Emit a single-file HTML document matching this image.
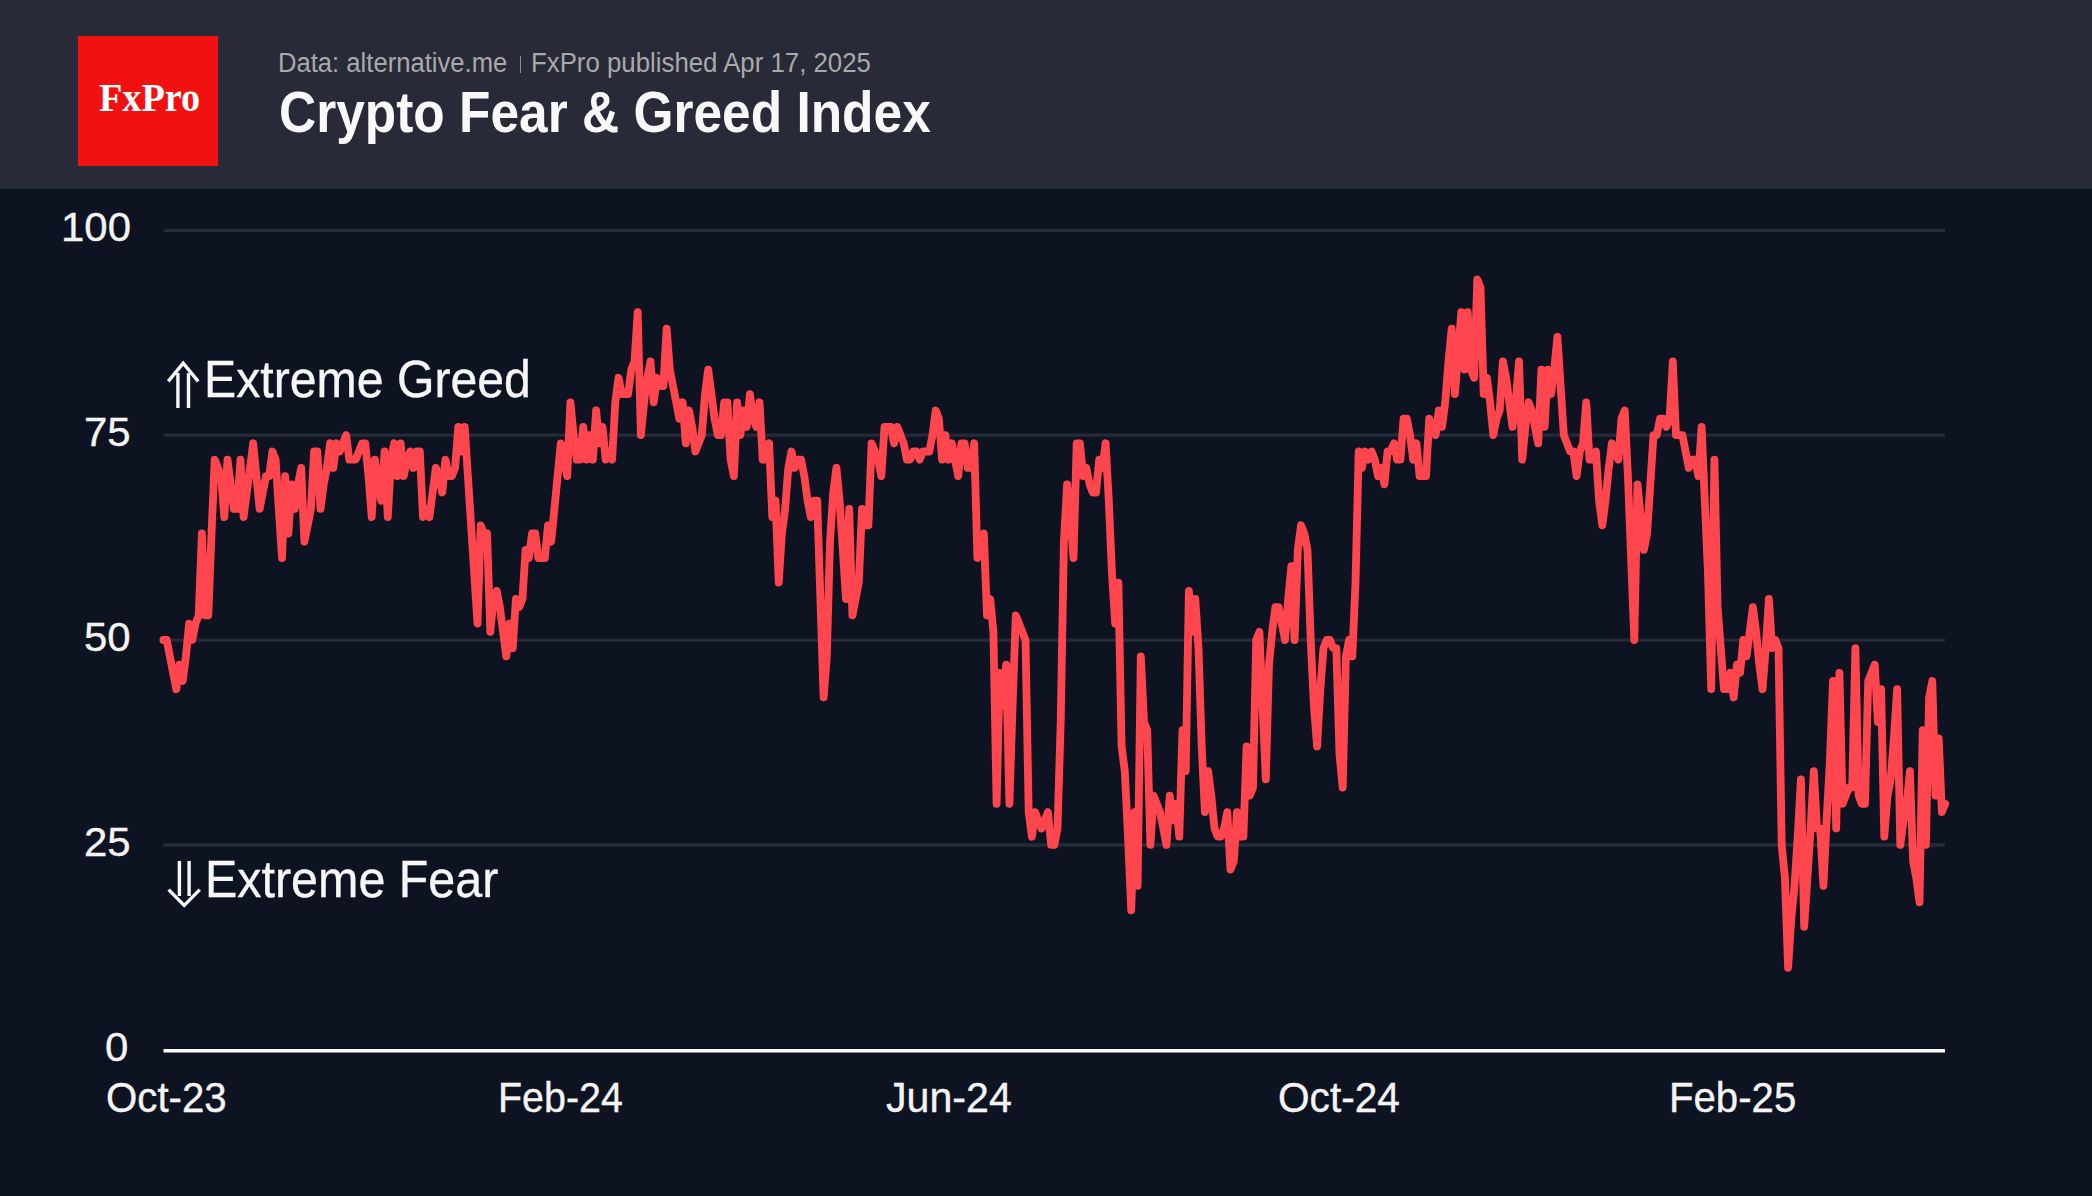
<!DOCTYPE html>
<html><head><meta charset="utf-8"><title>Crypto Fear &amp; Greed Index</title>
<style>
html,body{margin:0;padding:0;background:#0d1321;}
body{width:2092px;height:1196px;position:relative;overflow:hidden;font-family:"Liberation Sans",sans-serif;}
#hdr{position:absolute;left:0;top:0;width:2092px;height:189.4px;background:#282a37;}
#logo{position:absolute;left:78px;top:36px;width:140px;height:129.5px;background:#f21111;}
#sep{position:absolute;left:519.8px;top:56px;width:1.6px;height:16.5px;background:#8b8c92;}
.t{position:absolute;white-space:nowrap;transform-origin:0 0;}
svg{position:absolute;left:0;top:0;}
</style></head><body>
<div id="hdr"><div id="logo"></div><div id="sep"></div></div>
<svg width="2092" height="1196" viewBox="0 0 2092 1196">
<line x1="163.5" x2="1945" y1="230.4" y2="230.4" stroke="#262b38" stroke-width="3.3"/><line x1="163.5" x2="1945" y1="435.1" y2="435.1" stroke="#262b38" stroke-width="3.3"/><line x1="163.5" x2="1945" y1="640.1" y2="640.1" stroke="#262b38" stroke-width="3.3"/><line x1="163.5" x2="1945" y1="845.0" y2="845.0" stroke="#262b38" stroke-width="3.3"/>
<line x1="163.5" x2="1945" y1="1050.8" y2="1050.8" stroke="#ffffff" stroke-width="3.4"/>
<polyline fill="none" stroke="#ff464f" stroke-width="7.8" stroke-linejoin="round" stroke-linecap="round" points="163.4,640.0 166.7,640.0 169.9,656.4 173.1,672.8 176.3,689.2 179.5,664.6 182.7,681.0 185.9,656.4 189.1,623.6 192.3,640.0 195.5,623.6 198.7,615.4 201.9,533.5 205.1,615.4 208.3,615.4 211.5,533.5 214.7,459.7 217.9,467.9 221.1,476.1 224.3,517.1 227.5,459.7 230.7,484.3 233.9,508.9 237.2,508.9 240.4,459.7 243.6,517.1 246.8,492.5 250.0,467.9 253.2,443.3 256.4,476.1 259.6,508.9 262.8,492.5 266.0,476.1 269.2,476.1 272.4,451.5 275.6,459.7 278.8,508.9 282.0,558.0 285.2,476.1 288.4,533.5 291.6,484.3 294.8,508.9 298.0,484.3 301.2,467.9 304.4,541.7 307.7,525.3 310.9,508.9 314.1,451.5 317.3,451.5 320.5,508.9 323.7,484.3 326.9,467.9 330.1,443.3 333.3,467.9 336.5,443.3 339.7,451.5 342.9,443.3 346.1,435.1 349.3,459.7 352.5,459.7 355.7,459.7 358.9,451.5 362.1,443.3 365.3,443.3 368.5,476.1 371.7,517.1 374.9,459.7 378.2,484.3 381.4,500.7 384.6,451.5 387.8,517.1 391.0,459.7 394.2,443.3 397.4,476.1 400.6,443.3 403.8,476.1 407.0,459.7 410.2,451.5 413.4,467.9 416.6,451.5 419.8,451.5 423.0,517.1 426.2,508.9 429.4,517.1 432.6,492.5 435.8,467.9 439.0,476.1 442.2,492.5 445.4,459.7 448.7,476.1 451.9,476.1 455.1,467.9 458.3,426.9 461.5,451.5 464.7,426.9 467.9,476.1 471.1,525.3 474.3,574.4 477.5,623.6 480.7,525.3 483.9,533.5 487.1,533.5 490.3,631.8 493.5,599.0 496.7,590.8 499.9,607.2 503.1,631.8 506.3,656.4 509.5,623.6 512.7,648.2 515.9,599.0 519.1,607.2 522.4,599.0 525.6,549.9 528.8,558.0 532.0,533.5 535.2,533.5 538.4,558.0 541.6,558.0 544.8,558.0 548.0,525.3 551.2,541.7 554.4,508.9 557.6,476.1 560.8,443.3 564.0,459.7 567.2,476.1 570.4,402.3 573.6,435.1 576.8,459.7 580.0,459.7 583.2,426.9 586.4,459.7 589.6,435.1 592.9,459.7 596.1,410.5 599.3,443.3 602.5,426.9 605.7,459.7 608.9,451.5 612.1,459.7 615.3,402.3 618.5,377.8 621.7,394.1 624.9,394.1 628.1,394.1 631.3,369.6 634.5,361.4 637.7,312.2 640.9,435.1 644.1,402.3 647.3,377.8 650.5,361.4 653.7,402.3 656.9,377.8 660.1,386.0 663.4,386.0 666.6,328.6 669.8,369.6 673.0,386.0 676.2,402.3 679.4,418.7 682.6,402.3 685.8,443.3 689.0,410.5 692.2,426.9 695.4,451.5 698.6,443.3 701.8,435.1 705.0,394.1 708.2,369.6 711.4,394.1 714.6,418.7 717.8,435.1 721.0,435.1 724.2,402.3 727.4,402.3 730.6,459.7 733.9,476.1 737.1,402.3 740.3,435.1 743.5,410.5 746.7,426.9 749.9,394.1 753.1,418.7 756.3,426.9 759.5,402.3 762.7,459.7 765.9,459.7 769.1,443.3 772.3,517.1 775.5,500.7 778.7,582.6 781.9,533.5 785.1,508.9 788.3,467.9 791.5,451.5 794.7,467.9 797.9,459.7 801.1,459.7 804.3,476.1 807.6,500.7 810.8,517.1 814.0,500.7 817.2,500.7 820.4,599.0 823.6,697.4 826.8,656.4 830.0,541.7 833.2,492.5 836.4,467.9 839.6,500.7 842.8,549.9 846.0,599.0 849.2,508.9 852.4,615.4 855.6,599.0 858.8,582.6 862.0,508.9 865.2,525.3 868.4,525.3 871.6,443.3 874.8,451.5 878.1,459.7 881.3,476.1 884.5,426.9 887.7,426.9 890.9,426.9 894.1,443.3 897.3,426.9 900.5,435.1 903.7,443.3 906.9,459.7 910.1,459.7 913.3,451.5 916.5,451.5 919.7,459.7 922.9,451.5 926.1,451.5 929.3,451.5 932.5,435.1 935.7,410.5 938.9,418.7 942.1,459.7 945.3,435.1 948.6,459.7 951.8,443.3 955.0,459.7 958.2,476.1 961.4,443.3 964.6,443.3 967.8,467.9 971.0,467.9 974.2,443.3 977.4,558.0 980.6,541.7 983.8,533.5 987.0,615.4 990.2,599.0 993.4,631.8 996.6,803.9 999.8,672.8 1003.0,705.6 1006.2,664.6 1009.4,803.9 1012.6,705.6 1015.8,615.4 1019.1,623.6 1022.3,631.8 1025.5,640.0 1028.7,812.1 1031.9,836.7 1035.1,812.1 1038.3,820.3 1041.5,828.5 1044.7,820.3 1047.9,812.1 1051.1,844.9 1054.3,844.9 1057.5,828.5 1060.7,722.0 1063.9,541.7 1067.1,484.3 1070.3,517.1 1073.5,558.0 1076.7,443.3 1079.9,443.3 1083.1,476.1 1086.3,467.9 1089.6,484.3 1092.8,492.5 1096.0,492.5 1099.2,459.7 1102.4,467.9 1105.6,443.3 1108.8,500.7 1112.0,574.4 1115.2,623.6 1118.4,582.6 1121.6,746.5 1124.8,771.1 1128.0,836.7 1131.2,910.4 1134.4,812.1 1137.6,885.9 1140.8,656.4 1144.0,722.0 1147.2,730.1 1150.4,844.9 1153.6,795.7 1156.8,803.9 1160.0,812.1 1163.3,828.5 1166.5,844.9 1169.7,795.7 1172.9,820.3 1176.1,803.9 1179.3,836.7 1182.5,730.1 1185.7,771.1 1188.9,590.8 1192.1,631.8 1195.3,599.0 1198.5,648.2 1201.7,746.5 1204.9,812.1 1208.1,771.1 1211.3,795.7 1214.5,828.5 1217.7,836.7 1220.9,836.7 1224.1,828.5 1227.3,812.1 1230.5,869.5 1233.8,861.3 1237.0,812.1 1240.2,836.7 1243.4,836.7 1246.6,746.5 1249.8,795.7 1253.0,787.5 1256.2,640.0 1259.4,631.8 1262.6,705.6 1265.8,779.3 1269.0,664.6 1272.2,631.8 1275.4,607.2 1278.6,607.2 1281.8,623.6 1285.0,640.0 1288.2,599.0 1291.4,566.2 1294.6,640.0 1297.8,549.9 1301.0,525.3 1304.3,533.5 1307.5,549.9 1310.7,640.0 1313.9,705.6 1317.1,746.5 1320.3,689.2 1323.5,648.2 1326.7,640.0 1329.9,640.0 1333.1,648.2 1336.3,648.2 1339.5,754.7 1342.7,787.5 1345.9,656.4 1349.1,640.0 1352.3,656.4 1355.5,582.6 1358.7,451.5 1361.9,467.9 1365.1,451.5 1368.3,459.7 1371.5,451.5 1374.8,459.7 1378.0,476.1 1381.2,467.9 1384.4,484.3 1387.6,451.5 1390.8,451.5 1394.0,443.3 1397.2,459.7 1400.4,459.7 1403.6,418.7 1406.8,418.7 1410.0,435.1 1413.2,459.7 1416.4,443.3 1419.6,476.1 1422.8,476.1 1426.0,476.1 1429.2,418.7 1432.4,426.9 1435.6,435.1 1438.8,410.5 1442.0,426.9 1445.2,402.3 1448.5,361.4 1451.7,328.6 1454.9,394.1 1458.1,353.2 1461.3,312.2 1464.5,369.6 1467.7,312.2 1470.9,369.6 1474.1,377.8 1477.3,279.4 1480.5,287.6 1483.7,394.1 1486.9,377.8 1490.1,402.3 1493.3,435.1 1496.5,418.7 1499.7,410.5 1502.9,361.4 1506.1,377.8 1509.3,402.3 1512.5,426.9 1515.7,402.3 1519.0,361.4 1522.2,459.7 1525.4,426.9 1528.6,402.3 1531.8,410.5 1535.0,426.9 1538.2,443.3 1541.4,369.6 1544.6,426.9 1547.8,369.6 1551.0,394.1 1554.2,369.6 1557.4,336.8 1560.6,386.0 1563.8,435.1 1567.0,443.3 1570.2,451.5 1573.4,451.5 1576.6,476.1 1579.8,451.5 1583.0,443.3 1586.2,402.3 1589.5,459.7 1592.7,459.7 1595.9,451.5 1599.1,500.7 1602.3,525.3 1605.5,500.7 1608.7,467.9 1611.9,443.3 1615.1,451.5 1618.3,459.7 1621.5,418.7 1624.7,410.5 1627.9,476.1 1631.1,558.0 1634.3,640.0 1637.5,484.3 1640.7,517.1 1643.9,549.9 1647.1,533.5 1650.3,484.3 1653.5,435.1 1656.7,435.1 1660.0,418.7 1663.2,418.7 1666.4,426.9 1669.6,418.7 1672.8,361.4 1676.0,435.1 1679.2,435.1 1682.4,435.1 1685.6,451.5 1688.8,467.9 1692.0,459.7 1695.2,459.7 1698.4,476.1 1701.6,426.9 1704.8,500.7 1708.0,574.4 1711.2,689.2 1714.4,459.7 1717.6,607.2 1720.8,648.2 1724.0,689.2 1727.2,689.2 1730.5,672.8 1733.7,697.4 1736.9,664.6 1740.1,672.8 1743.3,640.0 1746.5,656.4 1749.7,631.8 1752.9,607.2 1756.1,631.8 1759.3,664.6 1762.5,689.2 1765.7,648.2 1768.9,599.0 1772.1,648.2 1775.3,640.0 1778.5,648.2 1781.7,844.9 1784.9,877.7 1788.1,967.8 1791.3,918.6 1794.5,885.9 1797.7,836.7 1800.9,779.3 1804.2,926.8 1807.4,877.7 1810.6,828.5 1813.8,771.1 1817.0,828.5 1820.2,828.5 1823.4,885.9 1826.6,820.3 1829.8,762.9 1833.0,681.0 1836.2,828.5 1839.4,672.8 1842.6,803.9 1845.8,795.7 1849.0,787.5 1852.2,787.5 1855.4,648.2 1858.6,795.7 1861.8,803.9 1865.0,803.9 1868.2,681.0 1871.4,672.8 1874.7,664.6 1877.9,722.0 1881.1,689.2 1884.3,836.7 1887.5,795.7 1890.7,779.3 1893.9,738.3 1897.1,689.2 1900.3,844.9 1903.5,820.3 1906.7,803.9 1909.9,771.1 1913.1,861.3 1916.3,877.7 1919.5,902.2 1922.7,730.1 1925.9,844.9 1929.1,697.4 1932.3,681.0 1935.5,795.7 1938.7,738.3 1941.9,812.1 1945.2,803.9"/>
<g fill="none" stroke="#f6f6f6" stroke-width="3.4">
<path d="M177.9 408V373M188.5 408V373M168.2 381.4L183.2 363.2L198.2 381.4"/>
<path d="M179.4 861V896M189.1 861V896M168.6 889.6L184.2 905.4L199.8 889.6"/>
</g>
</svg>
<div class="t" style="left:99.35px;top:74.23px;font:bold 40.2px/48px 'Liberation Serif',serif;color:#ffffff;transform:scaleX(0.9510);">FxPro</div>
<div class="t" style="left:277.90px;top:47.34px;font:normal 27px/32px 'Liberation Sans',sans-serif;color:#a9a9aa;transform:scaleX(0.9490);">Data: alternative.me</div>
<div class="t" style="left:530.59px;top:47.34px;font:normal 27px/32px 'Liberation Sans',sans-serif;color:#a9a9aa;transform:scaleX(0.9555);">FxPro published Apr 17, 2025</div>
<div class="t" style="left:278.99px;top:79.02px;font:bold 56.8px/68px 'Liberation Sans',sans-serif;color:#f8f8f8;transform:scaleX(0.9057);">Crypto Fear &amp; Greed Index</div>
<div class="t" style="left:61.25px;top:201.89px;font:normal 41.3px/50px 'Liberation Sans',sans-serif;color:#f4f4f4;transform:scaleX(1.0154); -webkit-text-stroke:0.35px #f4f4f4;">100</div>
<div class="t" style="left:84.02px;top:406.69px;font:normal 41.3px/50px 'Liberation Sans',sans-serif;color:#f4f4f4;transform:scaleX(1.0154); -webkit-text-stroke:0.35px #f4f4f4;">75</div>
<div class="t" style="left:83.51px;top:611.59px;font:normal 41.3px/50px 'Liberation Sans',sans-serif;color:#f4f4f4;transform:scaleX(1.0154); -webkit-text-stroke:0.35px #f4f4f4;">50</div>
<div class="t" style="left:84.02px;top:816.59px;font:normal 41.3px/50px 'Liberation Sans',sans-serif;color:#f4f4f4;transform:scaleX(1.0154); -webkit-text-stroke:0.35px #f4f4f4;">25</div>
<div class="t" style="left:104.86px;top:1022.09px;font:normal 41.3px/50px 'Liberation Sans',sans-serif;color:#f4f4f4;transform:scaleX(1.0154); -webkit-text-stroke:0.35px #f4f4f4;">0</div>
<div class="t" style="left:106.07px;top:1072.59px;font:normal 41.6px/50px 'Liberation Sans',sans-serif;color:#f4f4f4;transform:scaleX(0.9669); -webkit-text-stroke:0.35px #f4f4f4;">Oct-23</div>
<div class="t" style="left:498.06px;top:1072.59px;font:normal 41.6px/50px 'Liberation Sans',sans-serif;color:#f4f4f4;transform:scaleX(0.9477); -webkit-text-stroke:0.35px #f4f4f4;">Feb-24</div>
<div class="t" style="left:885.71px;top:1072.59px;font:normal 41.6px/50px 'Liberation Sans',sans-serif;color:#f4f4f4;transform:scaleX(0.9896); -webkit-text-stroke:0.35px #f4f4f4;">Jun-24</div>
<div class="t" style="left:1277.85px;top:1072.59px;font:normal 41.6px/50px 'Liberation Sans',sans-serif;color:#f4f4f4;transform:scaleX(0.9770); -webkit-text-stroke:0.35px #f4f4f4;">Oct-24</div>
<div class="t" style="left:1668.90px;top:1072.59px;font:normal 41.6px/50px 'Liberation Sans',sans-serif;color:#f4f4f4;transform:scaleX(0.9654); -webkit-text-stroke:0.35px #f4f4f4;">Feb-25</div>
<div class="t" style="left:203.87px;top:347.69px;font:normal 51.7px/62px 'Liberation Sans',sans-serif;color:#f6f6f6;transform:scaleX(0.9327); -webkit-text-stroke:0.35px #f6f6f6;">Extreme Greed</div>
<div class="t" style="left:205.05px;top:847.69px;font:normal 51.7px/62px 'Liberation Sans',sans-serif;color:#f6f6f6;transform:scaleX(0.9370); -webkit-text-stroke:0.35px #f6f6f6;">Extreme Fear</div>
</body></html>
